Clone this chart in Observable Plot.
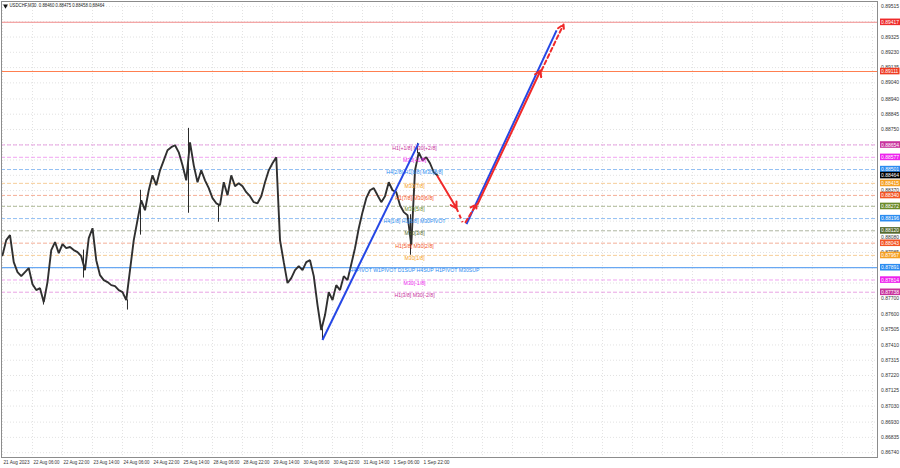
<!DOCTYPE html>
<html><head><meta charset="utf-8">
<script src="https://cdn.jsdelivr.net/npm/d3@7"></script>
<script src="https://cdn.jsdelivr.net/npm/@observablehq/plot@0.6"></script>
<style>html,body{margin:0;padding:0;background:#fff;} svg{display:block;}</style>
</head><body><div id="chart"></div>
<script>
const title = "USDCHF,M30  0.88460 0.88475 0.88458 0.88464";
const lastPrice = 0.88464;
const timeLabels = ["21 Aug 2023","22 Aug 06:00","22 Aug 22:00","23 Aug 14:00","24 Aug 06:00","24 Aug 22:00","25 Aug 14:00","28 Aug 06:00","28 Aug 22:00","29 Aug 14:00","30 Aug 06:00","30 Aug 22:00","31 Aug 14:00","1 Sep 06:00","1 Sep 22:00"];
const barsPerLabel = 32;      // M30 bars between time labels
const barStep = 4;            // closes sampled every 4 bars
const closes = [
0.87968,0.88062,0.88093,0.87925,0.87863,0.87838,0.87863,0.87888,0.87788,0.87751,
0.87763,0.87676,0.87801,0.88000,0.88050,0.87981,0.88037,0.88012,0.88019,0.88000,
0.87987,0.87962,0.87875,0.88074,0.88136,0.87937,0.87844,0.87813,0.87801,0.87782,
0.87776,0.87751,0.87739,0.87689,0.87875,0.88062,0.88186,0.88310,0.88248,0.88372,
0.88465,0.88403,0.88496,0.88558,0.88621,0.88640,0.88652,0.88608,0.88527,0.88434,
0.88670,0.88527,0.88422,0.88496,0.88434,0.88385,0.88323,0.88291,0.88279,0.88422,
0.88341,0.88465,0.88397,0.88416,0.88397,0.88360,0.88335,0.88298,0.88291,0.88335,
0.88422,0.88496,0.88540,0.88577,0.88062,0.87925,0.87795,0.87826,0.87875,0.87900,
0.87875,0.87925,0.87937,0.87838,0.87658,0.87503,0.87596,0.87739,0.87689,0.87782,
0.87751,0.87838,0.87813,0.87912,0.88012,0.88136,0.88236,0.88323,0.88372,0.88385,
0.88341,0.88298,0.88335,0.88422,0.88372,0.88360,0.88279,0.88236,0.88217,0.88031,
0.88496,0.88608,0.88558,0.88577,0.88540,0.88484,0.88464];
const wickBars = [43.7, 86.4, 133.3, 147.2, 198.4, 230.4, 341.3, 435.2, 442.7];
const wickLows = [0.87658,0.87826,0.87627,0.88093,0.88229,0.88173,0.87441,0.87968,0.88600];
const wickHighs= [0.87700,0.88000,0.87690,0.88372,0.88757,0.88280,0.87510,0.88220,0.88664];

const axisPrices = [0.89515,0.89325,0.89230,0.89135,0.89040,0.88940,0.88845,0.88750,0.88370,0.88080,0.87985,0.87700,0.87600,0.87505,0.87410,0.87315,0.87220,0.87125,0.87030,0.86930,0.86835,0.86740];
const hiddenGridPrices = [0.89420,0.88655,0.88560,0.88465,0.88275,0.88180,0.87890,0.87795];

const levelPrices = [0.89417,0.89111,0.88654,0.88577,0.88501,0.88415,0.88340,0.88272,0.88196,0.88120,0.88043,0.87967,0.87891,0.87814,0.87738];
const levelNames = ["","","H1[+1/8] M30[+2/8]","M30[+1/8]","H4[2/8] H1[8/8] M30[8/8]","M30[7/8]","H1[7/8] M30[6/8]","M30[5/8]","H4[1/8] H1[6/8] M30PIVOT","M30[3/8]","H1[5/8] M30[2/8]","M30[1/8]","H4PIVOT W1PIVOT D1SUP H4SUP H1PIVOT M30SUP","M30[-1/8]","H1[3/8] M30[-2/8]"];
const levelColors = ["#ee2b2b","#ee3a22","#c8329c","#ee22ee","#2b8cf0","#f5a023","#f35424","#6b8a2a","#2b8cf0","#566b2f","#f35424","#f5a023","#2b8cf0","#ee22ee","#c8329c"];
const levelLineColors = ["#f08a8a","#ff7f50","#e59ae0","#ef9bef","#86b8f0","#f5c88e","#f3a68c","#aab590","#86b8f0","#a5ad95","#f3a68c","#f5c88e","#69a8f2","#ef9bef","#e59ae0"];
const levelSolid = [true,true,false,false,false,false,false,false,false,false,false,false,true,false,false];
const labelBar = 439.5;

// projection (bar index, price)
const blueFrom = [[341.3,0.87441],[494.9,0.88161]];
const blueTo   = [[443.7,0.88664],[591.0,0.89366]];
const redSolidFrom = [[464.0,0.88459],[506.7,0.88285]];
const redSolidTo   = [[484.3,0.88260],[573.9,0.89117]];
const redDashFrom  = [[493.9,0.88173],[574.9,0.89117]];
const redDashTo    = [[505.6,0.88285],[598.4,0.89403]];
const redDashPlainFrom = [[484.3,0.88260]];
const redDashPlainTo   = [[490.7,0.88173]];

const X0 = -1.067, X1 = 933.3;
const series = closes.map((c,k)=>({i:k*barStep, c}));
const wicks = wickBars.map((i,j)=>({i, lo:wickLows[j], hi:wickHighs[j]}));
const levels = levelPrices.map((p,j)=>({p, name:levelNames[j], col:levelColors[j], line:levelLineColors[j], solid:levelSolid[j]}));
const tags = levels.map(d=>({p:d.p, col:d.col})).concat([{p:lastPrice, col:"#000"}]);
const gridTimes = d3.range(0, X1, barsPerLabel);
const segs = (a,b)=>a.map((f,j)=>({x1:f[0],y1:f[1],x2:b[j][0],y2:b[j][1]}));
const font = "'Liberation Sans', Arial, sans-serif";
const TAG_FS = 5.01, TIME_FS = 4.81, TITLE_FS = 4.91;

const levelRules = levels.map(d => Plot.ruleY([d.p], {
  stroke: d.line, strokeWidth: d.solid ? 1.1 : 0.9, strokeDasharray: d.solid ? null : "4,2"
}));

const plot = Plot.plot({
  width: 900, height: 468,
  marginLeft: 1, marginRight: 23, marginTop: 1, marginBottom: 11,
  x: {domain: [X0, X1], axis: null},
  y: {domain: [0.86710, 0.89546], axis: null},
  style: {fontFamily: font, background: "#fff", overflow: "visible"},
  marks: [
    Plot.ruleY(axisPrices.concat(hiddenGridPrices), {stroke: "#cfcfcf", strokeWidth: 0.6, strokeDasharray: "1,2"}),
    Plot.ruleX(gridTimes, {stroke: "#cfcfcf", strokeWidth: 0.6, strokeDasharray: "1,2"}),
    ...levelRules,
    Plot.ruleX(wicks, {x: "i", y1: "lo", y2: "hi", stroke: "#2a2a2a", strokeWidth: 1}),
    Plot.line(series, {x: "i", y: "c", stroke: "#303030", strokeWidth: 1.9, strokeLinejoin: "miter"}),
    Plot.text(levels, {filter: d=>d.name, x: d=>labelBar, y: "p", text: "name", fill: "col", fontSize: 5.2, dy: 3}),
    Plot.link(segs(blueFrom, blueTo), {x1:"x1", y1:"y1", x2:"x2", y2:"y2", stroke: "#2547e5", strokeWidth: 2}),
    Plot.arrow(segs(redSolidFrom, redSolidTo), {x1:"x1", y1:"y1", x2:"x2", y2:"y2", stroke: "#f02a2a", strokeWidth: 2, headLength: 5}),
    Plot.arrow(segs(redDashFrom, redDashTo), {x1:"x1", y1:"y1", x2:"x2", y2:"y2", stroke: "#f02a2a", strokeWidth: 2, headLength: 5, strokeDasharray: "4,3"}),
    Plot.link(segs(redDashPlainFrom, redDashPlainTo), {x1:"x1", y1:"y1", x2:"x2", y2:"y2", stroke: "#f02a2a", strokeWidth: 2, strokeDasharray: "4,3"}),
    Plot.frame({stroke: "#8c8c8c", strokeWidth: 1}),
    Plot.text(axisPrices, {x: d=>X1, y: d=>d, text: d=>d.toFixed(5), dx: 3.5, textAnchor: "start", fill: "#333", fontSize: 5}),
    Plot.text(tags, {x: d=>X1, y: "p", text: d=>d.p.toFixed(5), dx: 3.5, textAnchor: "start", fill: "#fff", fontSize: TAG_FS}),
    Plot.text(timeLabels, {x: (d,i)=>i*barsPerLabel, frameAnchor: "bottom", text: d=>d, dy: 6, dx: 1, textAnchor: "start", fill: "#333", fontSize: TIME_FS}),
    Plot.text([title], {frameAnchor: "top-left", text: d=>d, dx: 8, dy: 2, textAnchor: "start", fill: "#222", fontSize: TITLE_FS}),
    Plot.dot([0], {frameAnchor: "top-left", dx: 4, dy: 4.5, symbol: "triangle", r: 1.8, rotate: 180, fill: "#111", stroke: "none"})
  ]
});
document.getElementById("chart").append(plot);
const ns = "http://www.w3.org/2000/svg";
plot.querySelectorAll(`g[font-size="${TAG_FS}"] text`).forEach((t, j) => {
  const b = t.getBBox();
  const r = document.createElementNS(ns, "rect");
  r.setAttribute("x", b.x - 1);
  r.setAttribute("y", b.y - 0.3);
  r.setAttribute("width", b.width + 2);
  r.setAttribute("height", b.height + 0.6);
  r.setAttribute("fill", tags[j].col);
  const tr = t.getAttribute("transform");
  if (tr) r.setAttribute("transform", tr);
  t.parentNode.insertBefore(r, t);
});
plot.querySelectorAll(`g[font-size="${TIME_FS}"] text`).forEach(t => {
  t.setAttribute("textLength", 26);
  t.setAttribute("lengthAdjust", "spacingAndGlyphs");
});
plot.querySelectorAll(`g[font-size="${TITLE_FS}"] text`).forEach(t => {
  t.setAttribute("textLength", 95);
  t.setAttribute("lengthAdjust", "spacingAndGlyphs");
});
</script></body></html>
